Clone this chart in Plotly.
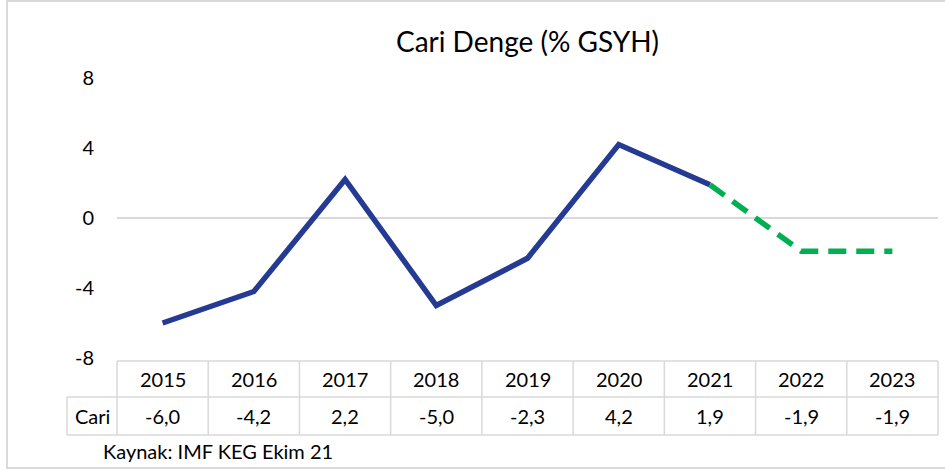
import plotly.graph_objects as go

years = ["2015", "2016", "2017", "2018", "2019", "2020", "2021", "2022", "2023"]
cari = [-6.0, -4.2, 2.2, -5.0, -2.3, 4.2, 1.9, -1.9, -1.9]
forecast_start = 6  # index of 2021, where forecast (dashed) begins
y_ticks = [-8, -4, 0, 4, 8]
title_text = "Cari Denge (% GSYH)"
row_label = "Cari"
source_text = "Kaynak: IMF KEG Ekim 21"

W, H = 945, 470
L, R, T, B = 117, 7, 78, 112
PW, PH = W - L - R, H - T - B

def px(x):
    return (x - L) / PW

def py(y):
    return (H - B - y) / PH

FONT = "Lato, Carlito, Calibri, 'Noto Sans', sans-serif"
GRID = "#D9D9D9"
TXT = 20

fig = go.Figure()
fig.add_trace(go.Scatter(
    x=list(range(forecast_start + 1)), y=cari[:forecast_start + 1],
    mode="lines", line=dict(color="#243A93", width=5.5), hoverinfo="skip"))
fig.add_trace(go.Scatter(
    x=list(range(forecast_start, len(years))), y=cari[forecast_start:],
    mode="lines", line=dict(color="#00B050", width=5.5, dash="18px,10px"), hoverinfo="skip"))

shapes = []
line_style = dict(color=GRID, width=1.5)
# outer border (right edge lies beyond the visible page)
shapes.append(dict(type="rect", xref="paper", yref="paper", x0=px(7), x1=px(970), y0=py(1), y1=py(468),
                   line=dict(color=GRID, width=2), layer="below"))
# table rows
y_top, y_mid, y_bot = 361, 397, 435
x_left_label, x_left, x_right = 67, L, 938
shapes.append(dict(type="line", xref="paper", yref="paper", x0=px(x_left), x1=px(x_right), y0=py(y_top), y1=py(y_top), line=line_style))
for yy in (y_mid, y_bot):
    shapes.append(dict(type="line", xref="paper", yref="paper", x0=px(x_left_label), x1=px(x_right), y0=py(yy), y1=py(yy), line=line_style))
shapes.append(dict(type="line", xref="paper", yref="paper", x0=px(x_left_label), x1=px(x_left_label), y0=py(y_mid), y1=py(y_bot), line=line_style))
n = len(years)
for i in range(n + 1):
    xx = i / n
    shapes.append(dict(type="line", xref="paper", yref="paper", x0=xx, x1=xx, y0=py(y_top), y1=py(y_bot), line=line_style))

def ann(x, y, text, size=TXT, xanchor="center"):
    return dict(x=x, y=y, xref="paper", yref="paper", text=text, showarrow=False,
                xanchor=xanchor, yanchor="middle",
                font=dict(size=size, color="#000000", family=FONT))

annotations = []
for i, (yr, v) in enumerate(zip(years, cari)):
    xc = (i + 0.5) / n
    annotations.append(ann(xc, py((y_top + y_mid) / 2), yr))
    annotations.append(ann(xc, py((y_mid + y_bot) / 2), f"{v:.1f}".replace(".", ",")))
annotations.append(ann(px((x_left_label + x_left) / 2), py((y_mid + y_bot) / 2), row_label))
annotations.append(ann(px(101), py(451), source_text, xanchor="left"))

fig.update_layout(
    width=W, height=H,
    margin=dict(l=L, r=R, t=T, b=B),
    paper_bgcolor="white", plot_bgcolor="white",
    showlegend=False,
    title=dict(text=title_text, x=0.5, xref="paper", xanchor="center", y=1 - 42 / H, yanchor="middle",
               font=dict(size=28, color="#000000", family=FONT)),
    xaxis=dict(range=[-0.5, n - 0.5], showticklabels=False, showgrid=False, zeroline=False,
               showline=False, ticks=""),
    yaxis=dict(range=[-8, 8], tickvals=y_ticks, ticktext=[str(t) for t in y_ticks],
               showgrid=False, zeroline=True, zerolinecolor=GRID, zerolinewidth=1.5,
               showline=False, ticks="", ticklabelstandoff=22,
               tickfont=dict(size=TXT, color="#000000", family=FONT)),
    shapes=shapes, annotations=annotations,
)
fig.write_html("out.html", config={"displayModeBar": False},
               post_script="document.body.style.margin='0';document.body.style.overflow='hidden';")
